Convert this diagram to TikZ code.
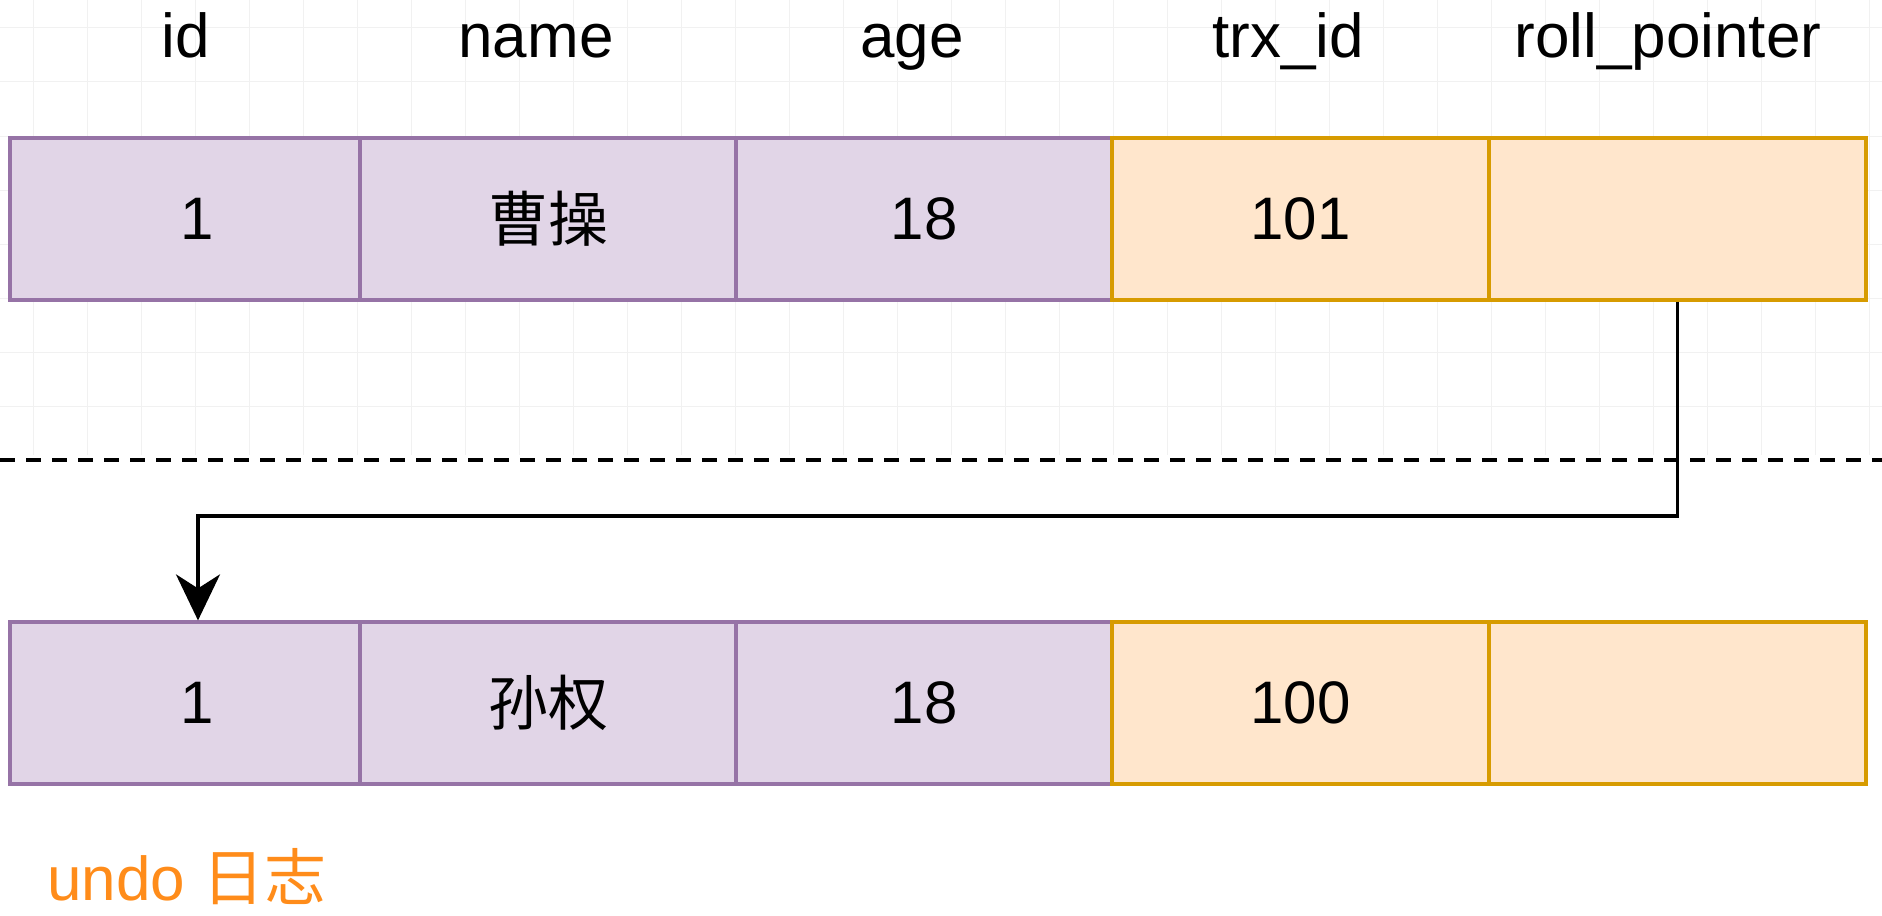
\documentclass[tikz,border=0pt]{standalone}
\usepackage{fontspec}
\setmainfont{Liberation Sans}
\newfontfamily\cjk{Noto Sans CJK SC}
\usetikzlibrary{arrows.meta}
\definecolor{purfill}{HTML}{E1D5E7}
\definecolor{purline}{HTML}{9673A6}
\definecolor{orgfill}{HTML}{FFE6CC}
\definecolor{orgline}{HTML}{D79B00}
\definecolor{undotext}{HTML}{FF8C1A}
\definecolor{gridline}{HTML}{F1F1F1}

\begin{document}
\begin{tikzpicture}[x=0.5pt,y=-0.5pt,
  cell/.style={draw, line width=1.6pt, minimum height=81pt, inner sep=0pt,
    font=\fontsize{30}{36}\selectfont},
  pcell/.style={cell, fill=purfill, draw=purline},
  ocell/.style={cell, fill=orgfill, draw=orgline},
  head/.style={anchor=base, font=\fontsize{31}{36}\selectfont},
  ptr/.style={line width=1.8pt, -{Stealth[length=23pt, width=22pt, inset=7pt]}}]
  \useasboundingbox (0,0) rectangle (1882,915);
  % canvas grid (upper part only)
  \foreach \gx in {33,87,...,1882} \draw[gridline, line width=0.5pt] (\gx,0) -- (\gx,455);
  \foreach \gy in {28,82,...,455} \draw[gridline, line width=0.5pt] (0,\gy) -- (1882,\gy);

  % column headers
  \node[head] (hid)   at (186,58)  {id};
  \node[head] (hname) at (536,58)  {name};
  \node[head] (hage)  at (912,58)  {age};
  \node[head] (htrx)  at (1288,58) {trx\_id};
  \node[head] (hroll) at (1668,58) {roll\_pointer};

  % current row
  \node[pcell, minimum width=175pt]   (id1)   at (185,219)    {\hspace*{12pt}1};
  \node[pcell, minimum width=188pt]   (name1) at (548,219)    {\cjk 曹操};
  \node[pcell, minimum width=188pt]   (age1)  at (924,219)    {18};
  \node[ocell, minimum width=188.5pt] (trx1)  at (1300.5,219) {101};
  \node[ocell, minimum width=188.5pt] (roll1) at (1677.5,219) {};

  \draw[line width=2pt, dash pattern=on 7.5pt off 5.5pt] (0,460) -- (1882,460);

  % undo log row
  \node[pcell, minimum width=175pt]   (id2)   at (185,703)    {\hspace*{12pt}1};
  \node[pcell, minimum width=188pt]   (name2) at (548,703)    {\cjk 孙权};
  \node[pcell, minimum width=188pt]   (age2)  at (924,703)    {18};
  \node[ocell, minimum width=188.5pt] (trx2)  at (1300.5,703) {100};
  \node[ocell, minimum width=188.5pt] (roll2) at (1677.5,703) {};

  \coordinate (bend) at (198,516);
  \draw[ptr] (roll1.south) |- (bend) -- (bend |- id2.north);

  \node[anchor=base west, text=undotext, font=\fontsize{31}{36}\selectfont]
    (undo) at (40,900) {undo {\cjk 日志}};
\end{tikzpicture}
\end{document}
